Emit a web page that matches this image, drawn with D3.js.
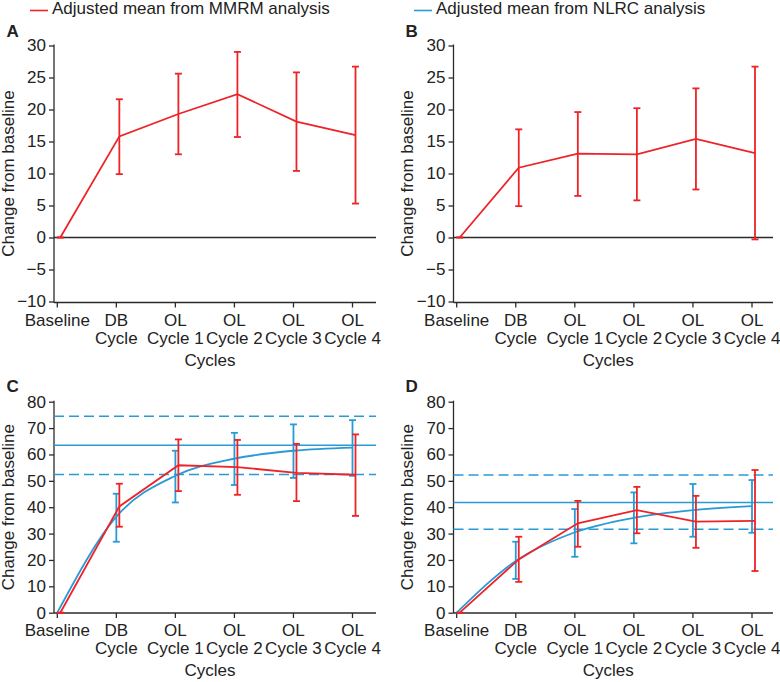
<!DOCTYPE html>
<html>
<head>
<meta charset="utf-8">
<script src="https://cdn.jsdelivr.net/npm/d3@7"></script>
<style>
  html, body { margin: 0; padding: 0; background: #fff; }
  svg { display: block; font-family: "Liberation Sans", Arial, Helvetica, sans-serif; }
</style>
</head>
<body>
<svg id="chart" width="780" height="682"></svg>
<script>
// ---------- DATA ----------
const cycles = ["Baseline", "DB Cycle", "OL Cycle 1", "OL Cycle 2", "OL Cycle 3", "OL Cycle 4"];
const tickLine1 = ["Baseline", "DB", "OL", "OL", "OL", "OL"];
const tickLine2 = ["", "Cycle", "Cycle 1", "Cycle 2", "Cycle 3", "Cycle 4"];
const yTicksTop = [-10, -5, 0, 5, 10, 15, 20, 25, 30];
const yTicksBottom = [0, 10, 20, 30, 40, 50, 60, 70, 80];

// Panel A: MMRM
const mmrmA_mean  = [0, 15.8, 19.3, 22.4, 18.1, 16.0];
const mmrmA_lower = [0,  9.9, 13.0, 15.7, 10.4,  5.3];
const mmrmA_upper = [0, 21.6, 25.6, 29.0, 25.8, 26.7];

// Panel B: MMRM
const mmrmB_mean  = [0, 10.9, 13.1, 13.0, 15.4, 13.2];
const mmrmB_lower = [0,  4.9,  6.5,  5.8,  7.5, -0.3];
const mmrmB_upper = [0, 16.9, 19.6, 20.2, 23.3, 26.7];

// Panel C: MMRM + NLRC
const mmrmC_mean  = [0, 40.3, 55.9, 55.2, 53.0, 52.3];
const mmrmC_lower = [0, 32.6, 46.1, 44.7, 42.3, 36.7];
const mmrmC_upper = [0, 48.9, 65.7, 65.5, 64.0, 67.6];
const nlrcC_mean  = [0, 36.4, 51.9, 58.4, 61.4, 62.6];
const nlrcC_lower = [null, 26.9, 41.8, 48.4, 51.1, 51.9];
const nlrcC_upper = [null, 45.1, 61.4, 68.2, 71.4, 73.0];
const nlrcC_plateau = [63.5, 52.4, 74.5]; // estimate, lower CI, upper CI

// Panel D: MMRM + NLRC
const mmrmD_mean  = [0, 20.2, 33.9, 38.9, 34.5, 34.8];
const mmrmD_lower = [0, 11.7, 25.0, 30.1, 24.6, 15.8];
const mmrmD_upper = [0, 28.8, 42.4, 47.7, 44.3, 54.1];
const nlrcD_mean  = [0, 19.6, 30.5, 36.0, 38.9, 40.4];
const nlrcD_lower = [null, 12.8, 21.2, 26.3, 28.8, 30.3];
const nlrcD_upper = [null, 26.9, 39.3, 45.6, 48.8, 50.3];
const nlrcD_plateau = [41.8, 31.6, 52.2];

const legendLabels = ["Adjusted mean from MMRM analysis", "Adjusted mean from NLRC analysis"];

// ---------- STYLE ----------
const RED = "#ee2328";
const BLUE = "#2a9ad6";
const AXIS = "#2b2b2b";
const TEXT = "#222";
const FS = 17;

const svg = d3.select("#chart");

// Legend
const legendItems = [
  { x: 30, label: legendLabels[0], color: RED },
  { x: 414, label: legendLabels[1], color: BLUE }
];
legendItems.forEach(l => {
  svg.append("line").attr("x1", l.x).attr("x2", l.x + 18).attr("y1", 10.5).attr("y2", 10.5)
    .attr("stroke", l.color).attr("stroke-width", 1.6);
  svg.append("text").attr("x", l.x + 22).attr("y", 14).attr("font-size", FS)
    .attr("fill", TEXT).text(l.label);
});

function drawPanel(p) {
  const g = svg.append("g");
  const x = d3.scalePoint().domain(cycles).range([p.x0, p.x1]);
  const y = d3.scaleLinear().domain(p.yDomain).range(p.yRange);

  // panel label
  g.append("text").attr("x", p.labelX).attr("y", p.labelY).attr("font-size", 17)
    .attr("font-weight", "bold").attr("fill", TEXT).text(p.label);

  // y axis
  const yAxis = d3.axisLeft(y).tickValues(p.yTicks).tickSize(5).tickSizeOuter(0).tickPadding(3);
  const ya = g.append("g").attr("transform", `translate(${p.axisX},0)`).call(yAxis);
  ya.selectAll("text").attr("font-size", FS).attr("fill", TEXT);
  ya.attr("font-family", null).attr("font-size", null);
  ya.selectAll("line").attr("stroke", AXIS).attr("stroke-width", 1.3);
  ya.select(".domain").attr("stroke", AXIS).attr("stroke-width", 1.3)
    .attr("d", `M0,${p.yRange[1] - 1}V${p.xAxisY}`);

  // x axis line
  g.append("line").attr("x1", p.axisX).attr("x2", p.xEnd).attr("y1", p.xAxisY).attr("y2", p.xAxisY)
    .attr("stroke", AXIS).attr("stroke-width", 1.3);
  // x ticks
  g.selectAll(".xt").data(cycles).enter().append("line")
    .attr("x1", d => x(d)).attr("x2", d => x(d))
    .attr("y1", p.xAxisY).attr("y2", p.xAxisY + 5)
    .attr("stroke", AXIS).attr("stroke-width", 1.3);
  g.selectAll(".xl1").data(cycles).enter().append("text")
    .attr("x", d => x(d)).attr("y", p.xAxisY + 23).attr("text-anchor", "middle")
    .attr("font-size", FS).attr("fill", TEXT).text((d, i) => tickLine1[i]);
  g.selectAll(".xl2").data(cycles).enter().append("text")
    .attr("x", d => x(d)).attr("y", p.xAxisY + 41).attr("text-anchor", "middle")
    .attr("font-size", FS).attr("fill", TEXT).text((d, i) => tickLine2[i]);
  g.append("text").attr("x", (p.axisX + p.xEnd) / 2 - 5).attr("y", p.xAxisY + 63)
    .attr("text-anchor", "middle").attr("font-size", FS).attr("fill", TEXT).text("Cycles");

  // y title
  g.append("text")
    .attr("transform", `translate(${p.titleX},${(p.yRange[0] + p.yRange[1]) / 2}) rotate(-90)`)
    .attr("text-anchor", "middle").attr("font-size", FS).attr("fill", TEXT)
    .text("Change from baseline");

  // zero line
  if (p.zeroLine) {
    g.append("line").attr("x1", p.axisX).attr("x2", p.xEnd).attr("y1", y(0)).attr("y2", y(0))
      .attr("stroke", AXIS).attr("stroke-width", 1.3);
  }

  // NLRC plateau lines
  if (p.plateau) {
    p.plateau.forEach((v, i) => {
      g.append("line").attr("x1", p.axisX).attr("x2", p.xEnd).attr("y1", y(v)).attr("y2", y(v))
        .attr("stroke", BLUE).attr("stroke-width", 1.5)
        .attr("stroke-dasharray", i === 0 ? null : "10,5");
    });
  }

  function series(mean, lower, upper, color, dx, curve) {
    const pts = cycles.map((c, i) => ({ c, m: mean[i], lo: lower[i], hi: upper[i] }));
    const line = d3.line().x(d => x(d.c) + dx).y(d => y(d.m)).curve(curve);
    g.append("path").datum(pts).attr("d", line).attr("fill", "none")
      .attr("stroke", color).attr("stroke-width", 1.8);
    const eb = pts.filter(d => d.lo !== null && d.hi !== null);
    eb.forEach(d => {
      const cx = x(d.c) + dx;
      g.append("line").attr("x1", cx).attr("x2", cx).attr("y1", y(d.lo)).attr("y2", y(d.hi))
        .attr("stroke", color).attr("stroke-width", 1.8);
      [d.lo, d.hi].forEach(v => {
        g.append("line").attr("x1", cx - 3.5).attr("x2", cx + 3.5).attr("y1", y(v)).attr("y2", y(v))
          .attr("stroke", color).attr("stroke-width", 1.8);
      });
    });
  }

  if (p.blue) series(p.blue[0], p.blue[1], p.blue[2], BLUE, 0, d3.curveMonotoneX);
  series(p.red[0], p.red[1], p.red[2], RED, 3, d3.curveLinear);
}

const leftCol = { axisX: 54, x0: 57.3, x1: 352.5, xEnd: 376, labelX: 6.5, titleX: 14 };
const rightCol = { axisX: 453.5, x0: 456.7, x1: 752, xEnd: 773, labelX: 405.5, titleX: 413 };
const topRow = { yDomain: [-10, 30], yRange: [301.5, 45.5], xAxisY: 302.5, yTicks: yTicksTop, labelY: 37, zeroLine: true };
const bottomRow = { yDomain: [0, 80], yRange: [612.7, 401.7], xAxisY: 613, yTicks: yTicksBottom, labelY: 392, zeroLine: false };

drawPanel(Object.assign({}, leftCol, topRow, { label: "A", red: [mmrmA_mean, mmrmA_lower, mmrmA_upper] }));
drawPanel(Object.assign({}, rightCol, topRow, { label: "B", red: [mmrmB_mean, mmrmB_lower, mmrmB_upper] }));
drawPanel(Object.assign({}, leftCol, bottomRow, { label: "C", red: [mmrmC_mean, mmrmC_lower, mmrmC_upper],
  blue: [nlrcC_mean, nlrcC_lower, nlrcC_upper], plateau: nlrcC_plateau }));
drawPanel(Object.assign({}, rightCol, bottomRow, { label: "D", red: [mmrmD_mean, mmrmD_lower, mmrmD_upper],
  blue: [nlrcD_mean, nlrcD_lower, nlrcD_upper], plateau: nlrcD_plateau }));
</script>
</body>
</html>
